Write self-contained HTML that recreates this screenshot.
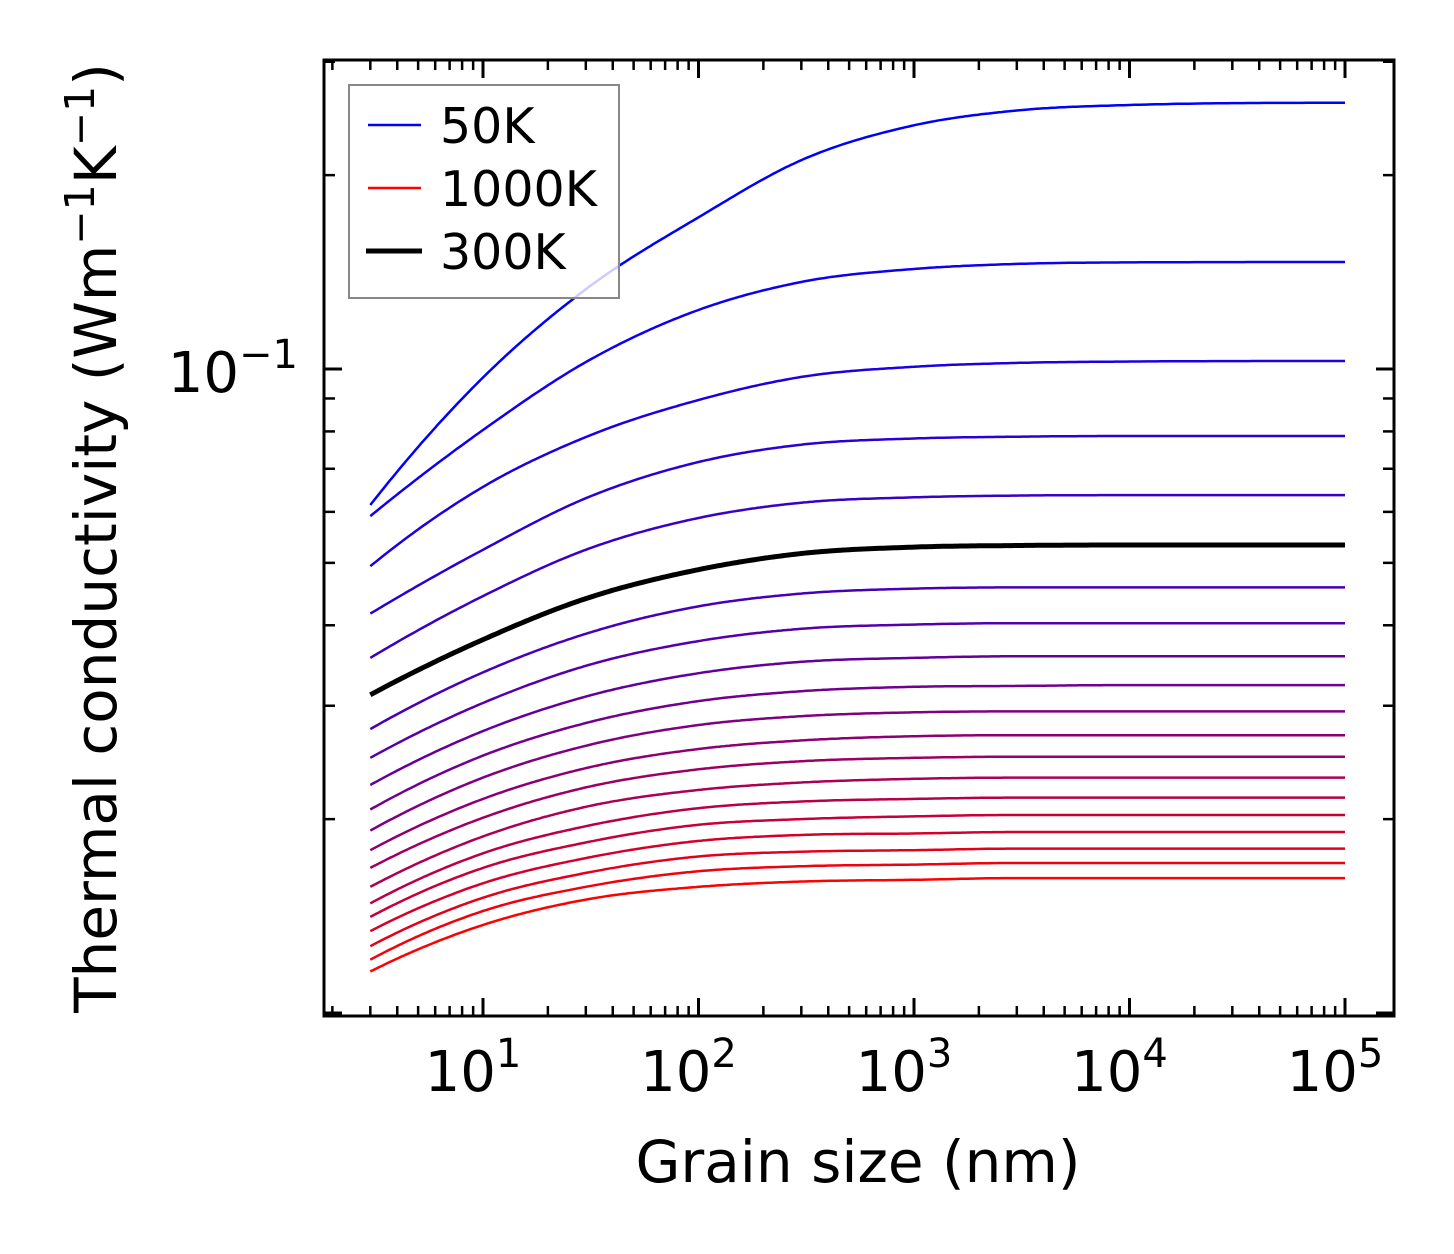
<!DOCTYPE html>
<html><head><meta charset="utf-8"><style>
html,body{margin:0;padding:0;background:#fff;}
svg{display:block;font-family:"DejaVu Sans","Liberation Sans",sans-serif;}
</style></head><body>
<svg id="chart" width="1454" height="1254" viewBox="0 0 1454 1254" xmlns="http://www.w3.org/2000/svg">
<rect width="1454" height="1254" fill="#fff"/>
<g id="curves"></g>
<g id="ticks"></g>
<rect x="324" y="60" width="1070" height="956" fill="none" stroke="#000" stroke-width="3"/>
<g id="xlabels"></g>
<text x="298" y="392" font-size="56" text-anchor="end">10<tspan font-size="40" dy="-24">−1</tspan></text>
<text x="858" y="1182" font-size="58" text-anchor="middle">Grain size (nm)</text>
<text transform="translate(116,538) rotate(-90)" font-size="58" text-anchor="middle">Thermal conductivity (Wm<tspan font-size="41" dy="-22">−1</tspan><tspan dy="22">K</tspan><tspan font-size="41" dy="-22">−1</tspan><tspan dy="22">)</tspan></text>
<g>
<rect x="349" y="85" width="270" height="213" fill="#fff" fill-opacity="0.8" stroke="#888" stroke-width="2"/>
<line x1="368" y1="125" x2="421" y2="125" stroke="#0000ff" stroke-width="2.5"/>
<text x="440" y="143" font-size="49">50K</text>
<line x1="368" y1="188" x2="421" y2="188" stroke="#ff0000" stroke-width="2.5"/>
<text x="440" y="206" font-size="49">1000K</text>
<line x1="366" y1="251" x2="422" y2="251" stroke="#000" stroke-width="5"/>
<text x="440" y="269" font-size="49">300K</text>
</g>
</svg>
<script>
const grainSizes = [3, 10, 30, 100, 300, 1000, 3000, 10000, 100000];
const kTop = [0.0615, 0.097, 0.133, 0.172, 0.211, 0.239, 0.252, 0.257, 0.259];
const k1 = [0.0591, 0.0804, 0.1025, 0.1235, 0.1365, 0.1430, 0.1456, 0.1464, 0.1466];
const k2 = [0.0494, 0.0656, 0.0784, 0.0895, 0.0972, 0.1008, 0.1022, 0.1027, 0.1029];
const k3 = [0.0417, 0.0524, 0.0630, 0.0717, 0.0763, 0.0780, 0.0785, 0.0787, 0.0787];
const k4 = [0.0356, 0.0444, 0.0524, 0.0587, 0.0620, 0.0632, 0.0636, 0.0637, 0.0637];
const k300 = [0.0312, 0.0380, 0.0440, 0.0488, 0.0517, 0.0529, 0.0532, 0.0533, 0.0533];
const k6 = [0.0276, 0.0338, 0.0388, 0.0428, 0.0448, 0.0456, 0.0458, 0.0458, 0.0458];
const k7 = [0.0249, 0.0303, 0.0346, 0.0378, 0.0395, 0.0401, 0.0403, 0.0403, 0.0403];
const k8 = [0.0226, 0.0274, 0.0310, 0.0337, 0.0351, 0.0356, 0.0358, 0.0358, 0.0358];
const k9 = [0.0207, 0.0251, 0.0282, 0.0305, 0.0316, 0.0321, 0.0322, 0.0323, 0.0323];
const k10 = [0.0192, 0.0232, 0.0260, 0.0280, 0.0289, 0.0293, 0.0294, 0.0294, 0.0294];
const k11 = [0.0179, 0.0215, 0.0240, 0.0257, 0.0265, 0.0269, 0.0270, 0.0270, 0.0270];
const k12 = [0.0168, 0.0201, 0.0224, 0.0239, 0.0246, 0.0249, 0.0250, 0.0250, 0.0250];
const k13 = [0.0157, 0.0188, 0.0209, 0.0222, 0.0228, 0.0231, 0.0232, 0.0232, 0.0232];
const k14 = [0.0148, 0.0177, 0.0195, 0.0208, 0.0213, 0.0215, 0.0216, 0.0216, 0.0216];
const k15 = [0.0141, 0.0168, 0.0184, 0.0196, 0.0200, 0.0202, 0.0203, 0.0203, 0.0203];
const k16 = [0.0134, 0.0159, 0.0174, 0.0185, 0.0189, 0.0190, 0.0191, 0.0191, 0.0191];
const k17 = [0.0127, 0.0151, 0.0165, 0.0175, 0.0178, 0.0179, 0.0180, 0.0180, 0.0180];
const k18 = [0.0121, 0.0144, 0.0157, 0.0166, 0.0169, 0.0170, 0.0171, 0.0171, 0.0171];
const k19 = [0.0116, 0.0137, 0.0150, 0.0157, 0.0160, 0.0161, 0.0162, 0.0162, 0.0162];
const colored = [kTop, k1, k2, k3, k4, k6, k7, k8, k9, k10, k11, k12, k13, k14, k15, k16, k17, k18, k19];
const xTickExps = [1, 2, 3, 4, 5];

const NS = 'http://www.w3.org/2000/svg';
const X0 = 324, X1 = 1394, Y0 = 60, Y1 = 1016;
const xDec = 215.5, xRef = 483;
const yDec = 644, yRef = 369;
function xs(v){ return xRef + (Math.log10(v) - 1) * xDec; }
function ys(v){ return yRef - (Math.log10(v) + 1) * yDec; }

function curvePath(vals){
  const X = grainSizes.map(g=>Math.log10(g)), Y = vals.map(v=>Math.log10(v));
  const n = X.length, d = [], h = [], m = [];
  for(let i=0;i<n-1;i++){ h.push(X[i+1]-X[i]); d.push((Y[i+1]-Y[i])/h[i]); }
  for(let i=1;i<n-1;i++){
    if(d[i-1]*d[i]<=0){ m[i]=0; continue; }
    m[i]=(h[i]*d[i-1]+h[i-1]*d[i])/(h[i-1]+h[i]);
    const lim=3*Math.min(Math.abs(d[i-1]),Math.abs(d[i]));
    if(Math.abs(m[i])>lim) m[i]=Math.sign(m[i])*lim;
  }
  m[0]=d[0]+(d[0]-d[1])*h[0]/(h[0]+h[1]);
  m[n-1]=0;
  const pts=[];
  for(let i=0;i<n-1;i++){
    for(let s=0;s<=40;s++){
      const t=s/40,t2=t*t,t3=t2*t;
      const y=(2*t3-3*t2+1)*Y[i]+(t3-2*t2+t)*h[i]*m[i]+(-2*t3+3*t2)*Y[i+1]+(t3-t2)*h[i]*m[i+1];
      const x=X[i]+t*h[i];
      pts.push((xRef+(x-1)*xDec).toFixed(1)+','+(yRef-(y+1)*yDec).toFixed(1));
    }
  }
  return 'M'+pts.join('L');
}
const cg = document.getElementById('curves');
colored.forEach((vals,i)=>{
  const f=i/(colored.length-1);
  const p=document.createElementNS(NS,'path');
  p.setAttribute('d',curvePath(vals));
  p.setAttribute('fill','none');
  p.setAttribute('stroke',`rgb(${Math.round(255*f)},0,${Math.round(255*(1-f))})`);
  p.setAttribute('stroke-width','2.5');
  
  
  cg.appendChild(p);
});
const pb=document.createElementNS(NS,'path');
pb.setAttribute('d',curvePath(k300));
pb.setAttribute('fill','none');
pb.setAttribute('stroke','#000');
pb.setAttribute('stroke-width','5');


cg.appendChild(pb);

const tg=document.getElementById('ticks');
function line(x1,y1,x2,y2,w){
  const l=document.createElementNS(NS,'line');
  l.setAttribute('x1',x1);l.setAttribute('y1',y1);l.setAttribute('x2',x2);l.setAttribute('y2',y2);
  l.setAttribute('stroke','#000');l.setAttribute('stroke-width',w);
  
  
  tg.appendChild(l);
}
for(let e=0;e<=5;e++){
  for(let m=1;m<=9;m++){
    const x=xs(m*Math.pow(10,e));
    if(x<X0+1||x>X1-1) continue;
    const L=m===1?18:10, w=m===1?3:2.5;
    line(x,Y1,x,Y1-L,w); line(x,Y0,x,Y0+L,w);
  }
}
for(let e=-3;e<=0;e++){
  for(let m=1;m<=9;m++){
    const y=ys(m*Math.pow(10,e));
    if(y<Y0+1||y>Y1-1) continue;
    const L=(m===1)?18:11, w=m===1?3:2.5;
    line(X0,y,X0+L,y,w); line(X1,y,X1-L,y,w);
  }
}
const xl=document.getElementById('xlabels');
xTickExps.forEach(e=>{
  const t=document.createElementNS(NS,'text');
  t.setAttribute('x',xs(Math.pow(10,e))-10);
  t.setAttribute('y',1091);
  t.setAttribute('font-size','56');
  t.setAttribute('text-anchor','middle');
  
  
  t.innerHTML='10<tspan font-size="40" dy="-24">'+e+'</tspan>';
  xl.appendChild(t);
});
</script>
</body></html>
